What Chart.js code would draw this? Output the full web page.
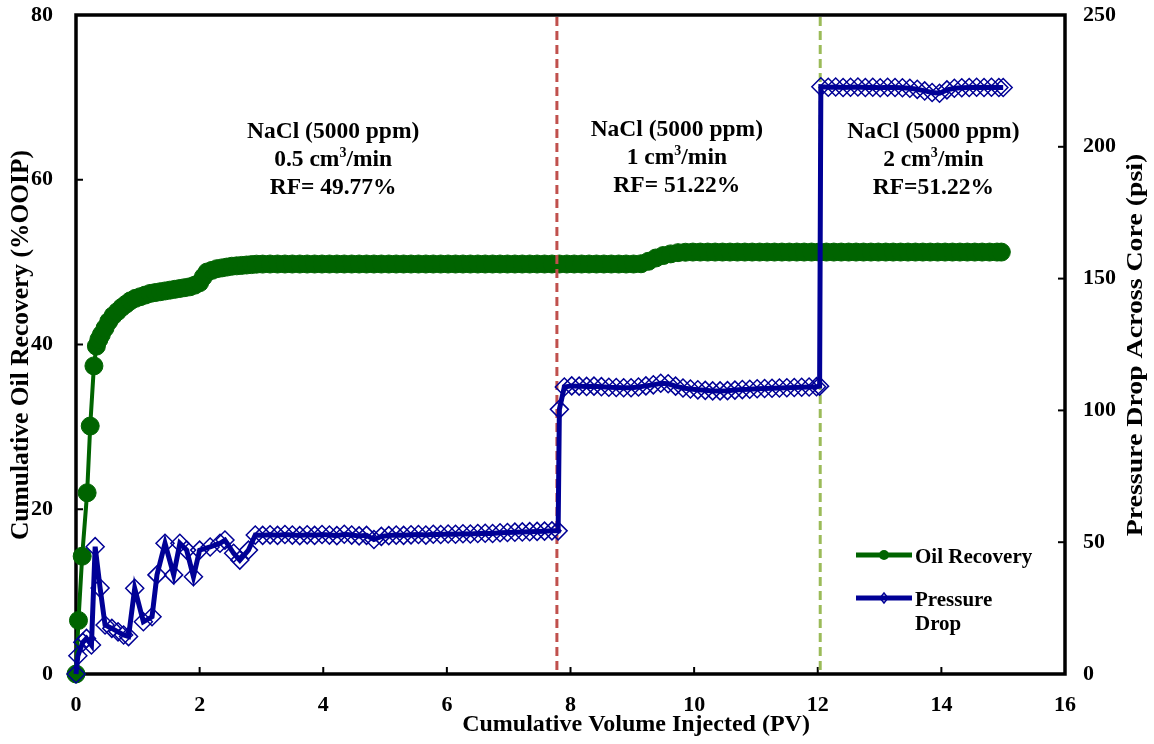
<!DOCTYPE html>
<html>
<head>
<meta charset="utf-8">
<script src="https://cdn.jsdelivr.net/npm/chart.js@4.4.0/dist/chart.umd.min.js"></script>
<style>
  html, body { margin: 0; padding: 0; background: #ffffff; }
  #wrap { width: 1154px; height: 744px; }
</style>
</head>
<body>
<div id="wrap"><canvas id="c" width="1154" height="744"></canvas></div>
<script>
// Cumulative oil recovery (%OOIP) against injected pore volumes
const oilPV = [
  0, 0.04, 0.1, 0.18, 0.23, 0.29, 0.33, 0.37, 0.41, 0.47,
  0.53, 0.6, 0.67, 0.74, 0.81, 0.88, 0.96, 1.04, 1.12, 1.2,
  1.28, 1.36, 1.44, 1.52, 1.6, 1.68, 1.76, 1.84, 1.92, 2.0,
  2.06, 2.12, 2.2, 2.28, 2.36, 2.44, 2.52, 2.6, 2.68, 2.76,
  2.84, 2.92,
  3.02, 3.14, 3.26, 3.38, 3.5, 3.62, 3.74, 3.86, 3.98, 4.1,
  4.22, 4.34, 4.46, 4.58, 4.7, 4.82, 4.94, 5.06, 5.18, 5.3,
  5.42, 5.54, 5.66, 5.78, 5.9, 6.02, 6.14, 6.26, 6.38, 6.5,
  6.62, 6.74, 6.86, 6.98, 7.1, 7.22, 7.34, 7.46, 7.58, 7.7,
  7.82, 7.94, 8.06, 8.18, 8.3, 8.42, 8.54, 8.66, 8.78, 8.9,
  9.02, 9.14, 9.26, 9.38, 9.5, 9.62, 9.74, 9.86, 9.98, 10.1,
  10.22, 10.34, 10.46, 10.58, 10.7, 10.82, 10.94, 11.06, 11.18, 11.3,
  11.42, 11.54, 11.66, 11.78, 11.9, 12.02, 12.14, 12.26, 12.38, 12.5,
  12.62, 12.74, 12.86, 12.98, 13.1, 13.22, 13.34, 13.46, 13.58, 13.7,
  13.82, 13.94, 14.06, 14.18, 14.3, 14.42, 14.54, 14.66, 14.78, 14.9,
  14.97
];
const oilRecovery = [
  0, 6.5, 14.3, 22.0, 30.1, 37.4, 39.8, 40.6, 41.2, 42.0,
  42.8, 43.5, 44.0, 44.5, 44.9, 45.3, 45.6, 45.8, 46.0, 46.2,
  46.3, 46.4, 46.5, 46.6, 46.7, 46.8, 46.9, 47.0, 47.2, 47.5,
  48.2, 48.8, 49.0, 49.2, 49.3, 49.4, 49.5, 49.55, 49.6, 49.65,
  49.7, 49.75,
  49.76, 49.77, 49.77, 49.77, 49.77, 49.77, 49.77, 49.77, 49.77, 49.77,
  49.77, 49.77, 49.77, 49.77, 49.77, 49.77, 49.77, 49.77, 49.77, 49.77,
  49.77, 49.77, 49.77, 49.77, 49.77, 49.77, 49.77, 49.77, 49.77, 49.77,
  49.77, 49.77, 49.77, 49.77, 49.77, 49.77, 49.77, 49.77, 49.77, 49.77,
  49.77, 49.77, 49.77, 49.77, 49.77, 49.77, 49.77, 49.77, 49.77, 49.77,
  49.77, 49.8, 50.1, 50.5, 50.8, 51.0, 51.15, 51.2, 51.22, 51.22,
  51.22, 51.22, 51.22, 51.22, 51.22, 51.22, 51.22, 51.22, 51.22, 51.22,
  51.22, 51.22, 51.22, 51.22, 51.22, 51.22, 51.22, 51.22, 51.22, 51.22,
  51.22, 51.22, 51.22, 51.22, 51.22, 51.22, 51.22, 51.22, 51.22, 51.22,
  51.22, 51.22, 51.22, 51.22, 51.22, 51.22, 51.22, 51.22, 51.22, 51.22,
  51.22
];

// Pressure drop across the core (psi) against injected pore volumes
const dpPV = [
  0, 0.03, 0.11, 0.17, 0.25, 0.31, 0.39, 0.47, 0.58, 0.68,
  0.77, 0.85, 0.95, 1.09, 1.23, 1.31, 1.44, 1.58, 1.68, 1.79,
  1.9, 2.0, 2.17, 2.33, 2.41, 2.55, 2.65, 2.79, 2.9,
  3.02, 3.14, 3.26, 3.38, 3.5, 3.62, 3.74, 3.86, 3.98, 4.1,
  4.22, 4.34, 4.46, 4.58, 4.7, 4.82, 4.94, 5.06, 5.18, 5.3,
  5.42, 5.54, 5.66, 5.78, 5.9, 6.02, 6.14, 6.26, 6.38, 6.5,
  6.62, 6.74, 6.86, 6.98, 7.1, 7.22, 7.34, 7.46, 7.58, 7.7,
  7.8, 7.82,
  7.9, 8.02, 8.14, 8.26, 8.38, 8.5, 8.62, 8.74, 8.86, 8.98,
  9.1, 9.22, 9.34, 9.46, 9.58, 9.7, 9.82, 9.94, 10.06, 10.18,
  10.3, 10.42, 10.54, 10.66, 10.78, 10.9, 11.02, 11.14, 11.26, 11.38,
  11.5, 11.62, 11.74, 11.86, 11.98,
  12.03, 12.05,
  12.17, 12.29, 12.41, 12.53, 12.65, 12.77, 12.89, 13.01, 13.13, 13.25,
  13.37, 13.49, 13.61, 13.73, 13.85, 13.97, 14.09, 14.21, 14.33, 14.45,
  14.57, 14.69, 14.81, 14.93, 15.0
];
const dpPsi = [
  0, 6.9, 12.0, 13.5, 11.0, 48.3, 32.6, 18.6, 17.3, 16.0,
  14.8, 14.2, 32.5, 19.8, 21.7, 37.6, 49.6, 37.6, 49.6, 47.0,
  36.9, 47.0, 48.2, 49.6, 50.8, 45.8, 43.2, 47.0, 52.7,
  52.6, 52.8, 52.6, 52.9, 52.7, 52.5, 52.8, 52.6, 52.9, 52.7,
  52.5, 53.0, 52.7, 52.4, 52.6, 51.0, 52.2, 52.5, 52.7, 52.6,
  52.8, 52.9, 52.7, 53.0, 52.9, 53.1, 53.0, 53.2, 53.1, 53.3,
  53.4, 53.3, 53.6, 53.7, 53.8, 53.9, 54.0, 54.1, 54.2, 54.3,
  54.3, 100.4,
  108.9, 109.3, 109.2, 109.1, 109.2, 109.0, 108.8, 108.7, 108.6, 108.6,
  108.9, 109.3, 109.7, 110.3, 110.1, 109.2, 108.5, 108.1, 107.8, 107.6,
  107.4, 107.4, 107.5, 107.7, 107.9, 108.0, 108.2, 108.3, 108.4, 108.5,
  108.6, 108.7, 108.8, 108.9, 109.0,
  109.2, 222.8,
  222.6, 222.7, 222.5, 222.6, 222.7, 222.5, 222.6, 222.4, 222.6, 222.5,
  222.4, 222.2, 221.8, 221.2, 220.6, 220.3, 221.6, 222.2, 222.4, 222.5,
  222.6, 222.5, 222.6, 222.5, 222.5
];

// Injection stages: where each rate change happens, and the text for each stage
const stageChangePV = [7.78, 12.04];
const stageChangeColors = ['#C0504D', '#9BBB59'];
const stageBrine = ['NaCl (5000 ppm)', 'NaCl (5000 ppm)', 'NaCl (5000 ppm)'];
const stageRate = ['0.5', '1', '2'];
const stageRF = ['RF= 49.77%', 'RF= 51.22%', 'RF=51.22%'];
const stageLabelPV = [4.16, 9.72, 13.87];
const stageLabelTop = [66.0, 66.3, 66.0];

const GREEN = '#006400';
const BLUE = '#000096';
const SERIF = "'Liberation Serif', 'Times New Roman', serif";

function richLine(ctx, parts, cx, cy, size) {
  const main = 'bold ' + size + 'px ' + SERIF;
  const sup = 'bold ' + Math.round(size * 0.6) + 'px ' + SERIF;
  let total = 0;
  parts.forEach(p => { ctx.font = p.sup ? sup : main; total += ctx.measureText(p.t).width; });
  let x = cx - total / 2;
  ctx.textAlign = 'left';
  ctx.textBaseline = 'alphabetic';
  parts.forEach(p => {
    ctx.font = p.sup ? sup : main;
    ctx.fillText(p.t, x, cy + size * 0.33 - (p.sup ? size * 0.38 : 0));
    x += ctx.measureText(p.t).width;
  });
}

function rotatedTitle(ctx, text, x, y, size, stretch) {
  ctx.save();
  ctx.translate(x, y);
  ctx.rotate(-Math.PI / 2);
  ctx.scale(stretch, 1);
  ctx.font = 'bold ' + size + 'px ' + SERIF;
  ctx.textAlign = 'center';
  ctx.textBaseline = 'middle';
  ctx.fillText(text, 0, 0);
  ctx.restore();
}

const decor = {
  id: 'decor',
  beforeDatasetsDraw(chart) {
    const { ctx, chartArea: a, scales } = chart;
    ctx.save();
    ctx.strokeStyle = '#000';
    ctx.lineWidth = 2;
    const tl = 7;
    scales.x.ticks.forEach(t => {
      const px = scales.x.getPixelForValue(t.value);
      ctx.beginPath(); ctx.moveTo(px, a.bottom); ctx.lineTo(px, a.bottom - tl); ctx.stroke();
    });
    scales.yOil.ticks.forEach(t => {
      const py = scales.yOil.getPixelForValue(t.value);
      ctx.beginPath(); ctx.moveTo(a.left, py); ctx.lineTo(a.left + tl, py); ctx.stroke();
    });
    scales.yP.ticks.forEach(t => {
      const py = scales.yP.getPixelForValue(t.value);
      ctx.beginPath(); ctx.moveTo(a.right, py); ctx.lineTo(a.right - tl, py); ctx.stroke();
    });
    ctx.lineWidth = 3.5;
    ctx.strokeRect(a.left, a.top, a.right - a.left, a.bottom - a.top);
    ctx.restore();
  },
  beforeDatasetDraw(chart, args) {
    if (chart.data.datasets[args.index].label !== 'Pressure Drop') return;
    const { ctx, chartArea: a, scales } = chart;
    ctx.save();
    ctx.lineWidth = 3;
    ctx.setLineDash([9, 5]);
    stageChangePV.forEach((v, i) => {
      const px = scales.x.getPixelForValue(v);
      ctx.strokeStyle = stageChangeColors[i];
      ctx.beginPath(); ctx.moveTo(px, a.top + 2); ctx.lineTo(px, a.bottom - 2); ctx.stroke();
    });
    ctx.restore();
  },
  afterDraw(chart) {
    const { ctx, scales } = chart;
    ctx.save();
    ctx.fillStyle = '#000';

    // stage annotations
    const size = 23.5, lh = 28;
    stageBrine.forEach((b, i) => {
      const cx = scales.x.getPixelForValue(stageLabelPV[i]);
      const cy = scales.yOil.getPixelForValue(stageLabelTop[i]);
      richLine(ctx, [{ t: b }], cx, cy, size);
      richLine(ctx, [{ t: stageRate[i] + ' cm' }, { t: '3', sup: true }, { t: '/min' }], cx, cy + lh, size);
      richLine(ctx, [{ t: stageRF[i] }], cx, cy + 2 * lh, size);
    });

    // axis titles
    ctx.font = 'bold 24px ' + SERIF;
    ctx.textAlign = 'center';
    ctx.textBaseline = 'middle';
    ctx.fillText('Cumulative Volume Injected (PV)', 636, 725);
    rotatedTitle(ctx, 'Cumulative Oil Recovery (%OOIP)', 21, 345, 25.5, 1);
    rotatedTitle(ctx, 'Pressure Drop Across Core (psi)', 1136, 345, 24, 1.16);

    // legend
    const lx0 = 856, lx1 = 912, mid = (lx0 + lx1) / 2;
    ctx.lineWidth = 5;
    ctx.strokeStyle = GREEN;
    ctx.beginPath(); ctx.moveTo(lx0, 555); ctx.lineTo(lx1, 555); ctx.stroke();
    ctx.fillStyle = GREEN;
    ctx.beginPath(); ctx.arc(mid, 555, 5, 0, Math.PI * 2); ctx.fill();
    ctx.strokeStyle = BLUE;
    ctx.beginPath(); ctx.moveTo(lx0, 598); ctx.lineTo(lx1, 598); ctx.stroke();
    ctx.lineWidth = 1.5;
    ctx.beginPath();
    ctx.moveTo(mid, 593); ctx.lineTo(mid + 4, 598); ctx.lineTo(mid, 603); ctx.lineTo(mid - 4, 598); ctx.closePath();
    ctx.stroke();
    ctx.fillStyle = '#000';
    ctx.font = 'bold 21px ' + SERIF;
    ctx.textAlign = 'left';
    ctx.textBaseline = 'alphabetic';
    ctx.fillText('Oil Recovery', 915, 563);
    ctx.fillText('Pressure', 915, 606);
    ctx.fillText('Drop', 915, 630);
    ctx.restore();
  }
};

const tickFont = { family: SERIF, weight: 'bold', size: 22 };
const noGrid = { display: false, drawTicks: false };
function clearPadding(s) { s.paddingTop = 0; s.paddingBottom = 0; s.paddingLeft = 0; s.paddingRight = 0; }

new Chart(document.getElementById('c'), {
  type: 'line',
  data: {
    datasets: [
      {
        label: 'Pressure Drop',
        data: dpPV.map((x, i) => ({ x, y: dpPsi[i] })),
        yAxisID: 'yP',
        borderColor: BLUE,
        borderWidth: 5,
        pointStyle: 'rectRot',
        pointRadius: 9,
        pointBorderWidth: 1.5,
        pointBorderColor: BLUE,
        pointBackgroundColor: 'rgba(0,0,0,0)',
        tension: 0,
        clip: false,
        order: 1
      },
      {
        label: 'Oil Recovery',
        data: oilPV.map((x, i) => ({ x, y: oilRecovery[i] })),
        yAxisID: 'yOil',
        borderColor: GREEN,
        borderWidth: 4,
        pointStyle: 'circle',
        pointRadius: 9,
        pointBorderWidth: 1,
        pointBorderColor: GREEN,
        pointBackgroundColor: GREEN,
        tension: 0,
        clip: false,
        order: 2
      }
    ]
  },
  options: {
    responsive: false,
    animation: false,
    events: [],
    layout: { padding: { top: 15, left: 0, right: 0, bottom: 0 } },
    plugins: { legend: { display: false }, tooltip: { enabled: false } },
    scales: {
      x: {
        type: 'linear', min: 0, max: 16,
        ticks: { stepSize: 2, font: tickFont, color: '#000', padding: 18, maxRotation: 0 },
        grid: noGrid, border: { display: false },
        afterFit(s) { s.height = 70; clearPadding(s); }
      },
      yOil: {
        type: 'linear', position: 'left', min: 0, max: 80,
        ticks: { stepSize: 20, font: tickFont, color: '#000', padding: 23 },
        grid: noGrid, border: { display: false },
        afterFit(s) { s.width = 76; clearPadding(s); }
      },
      yP: {
        type: 'linear', position: 'right', min: 0, max: 250,
        ticks: { stepSize: 50, font: tickFont, color: '#000', padding: 18 },
        grid: noGrid, border: { display: false },
        afterFit(s) { s.width = 89; clearPadding(s); }
      }
    }
  },
  plugins: [decor]
});
</script>
</body>
</html>
